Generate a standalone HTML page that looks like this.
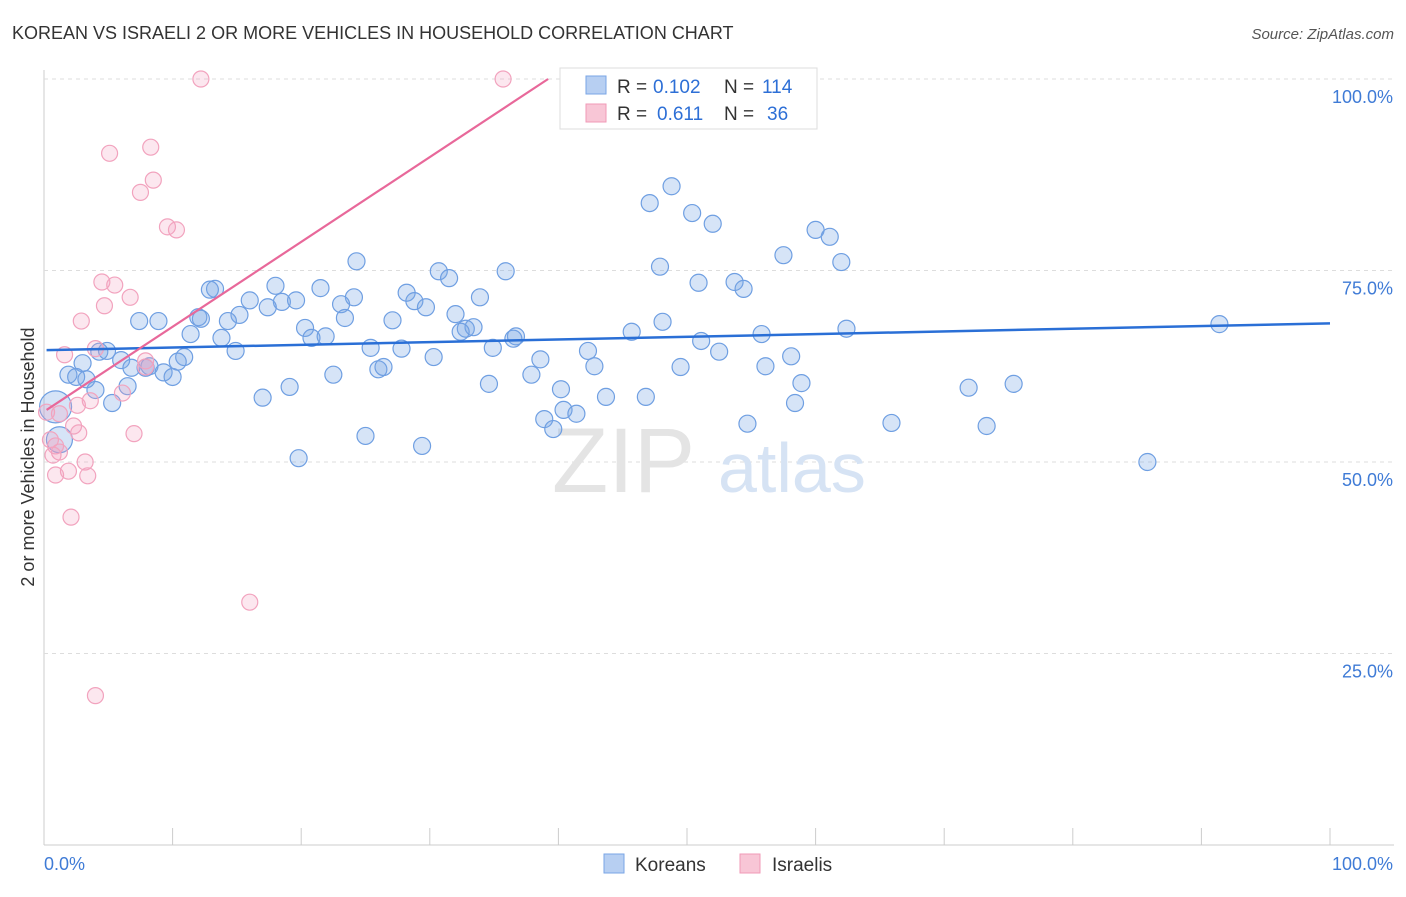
<!DOCTYPE html>
<html><head><meta charset="utf-8"><style>
body{margin:0;background:#fff;font-family:"Liberation Sans",sans-serif;}
svg text{font-family:"Liberation Sans",sans-serif;}
</style></head><body>
<svg id="chart" width="1406" height="892" viewBox="0 0 1406 892">
<text x="12" y="39" font-size="18" fill="#333">KOREAN VS ISRAELI 2 OR MORE VEHICLES IN HOUSEHOLD CORRELATION CHART</text>
<text x="1394" y="39" font-size="15" fill="#555" text-anchor="end" font-style="italic">Source: ZipAtlas.com</text>
<g id="grid"></g>
<g>
<text x="552" y="492" font-size="92" fill="#e4e4e4" font-family="Liberation Serif">ZIP</text>
<text x="718" y="492" font-size="70" fill="#d6e3f4">atlas</text>
</g>
<text transform="translate(34,457) rotate(-90)" font-size="18" fill="#333" text-anchor="middle">2 or more Vehicles in Household</text>
<g id="points"></g>
<g id="lines"></g>
<g>
<rect x="560" y="68" width="257" height="61" fill="#fff" stroke="#ddd"/>
<rect x="586" y="76" width="20" height="18" fill="#b7cff2" stroke="#7aa5e6"/>
<rect x="586" y="104" width="20" height="18" fill="#f8c6d6" stroke="#f09ab7"/>
<text x="617" y="93" font-size="19" fill="#333">R =</text>
<text x="653" y="93" font-size="19" fill="#2d6fd6">0.102</text>
<text x="724" y="93" font-size="19" fill="#333">N =</text>
<text x="762" y="93" font-size="19" fill="#2d6fd6">114</text>
<text x="617" y="120" font-size="19" fill="#333">R =</text>
<text x="657" y="120" font-size="19" fill="#2d6fd6">0.611</text>
<text x="724" y="120" font-size="19" fill="#333">N =</text>
<text x="767" y="120" font-size="19" fill="#2d6fd6">36</text>
</g>
<g>
<rect x="604" y="854" width="20" height="19" fill="#b7cff2" stroke="#7aa5e6"/>
<text x="635" y="871" font-size="19" fill="#333">Koreans</text>
<rect x="740" y="854" width="20" height="19" fill="#f8c6d6" stroke="#f09ab7"/>
<text x="772" y="871" font-size="19" fill="#333">Israelis</text>
</g>
</svg>
<script>
const yTicks=[25,50,75,100];
const yTickLabels=["25.0%","50.0%","75.0%","100.0%"];
const xTickLabels=["0.0%","100.0%"];
const koreanX=[48.8,47.1,50.4,52.0,60.0,61.1,57.5,62.0,47.9,50.9,53.7,54.4,24.3,30.7,31.5,35.9,33.9,18.0,13.3,12.9,16.0,18.5,19.6,21.5,24.1,23.1,28.2,28.8,29.7,17.4,15.2,12.0,12.2,14.3,7.4,8.9,32.0,23.4,20.3,20.8,21.9,27.1,32.8,33.4,32.4,36.7,36.5,45.7,48.1,51.1,55.8,62.4,91.4,11.4,13.8,14.9,4.3,4.9,6.0,10.9,10.4,8.2,7.9,6.8,9.3,10.0,3.0,1.9,2.5,3.3,4.0,6.5,5.3,25.4,27.8,30.3,34.9,38.6,42.3,52.5,58.1,26.0,26.4,42.8,49.5,56.1,22.5,37.9,34.6,19.1,40.2,58.9,71.9,75.4,17.0,43.7,46.8,58.4,38.9,40.4,41.4,39.6,54.7,65.9,73.3,25.0,29.4,19.8,85.8,0.9,1.2];
const koreanY=[86.0,83.8,82.5,81.1,80.3,79.4,77.0,76.1,75.5,73.4,73.5,72.6,76.2,74.9,74.0,74.9,71.5,73.0,72.6,72.5,71.1,70.9,71.1,72.7,71.5,70.6,72.1,71.0,70.2,70.2,69.2,68.9,68.7,68.4,68.4,68.4,69.3,68.8,67.5,66.2,66.4,68.5,67.4,67.6,67.0,66.4,66.1,67.0,68.3,65.8,66.7,67.4,68.0,66.7,66.2,64.5,64.4,64.5,63.3,63.7,63.1,62.5,62.3,62.3,61.7,61.1,62.9,61.4,61.1,60.8,59.4,59.9,57.7,64.9,64.8,63.7,64.9,63.4,64.5,64.4,63.8,62.1,62.4,62.5,62.4,62.5,61.4,61.4,60.2,59.8,59.5,60.3,59.7,60.2,58.4,58.5,58.5,57.7,55.6,56.8,56.3,54.3,55.0,55.1,54.7,53.4,52.1,50.5,50.0,57.2,52.9];
const israeliX=[12.2,35.7,5.1,8.3,8.5,7.5,9.6,10.3,4.5,5.5,6.7,4.7,2.9,4.0,1.6,7.9,6.1,3.6,2.6,1.2,2.3,2.7,7.0,0.9,1.2,3.2,1.9,0.9,3.4,2.1,16.0,4.0,0.2,0.5,0.7,7.9];
const israeliY=[100,100,90.3,91.1,86.8,85.2,80.7,80.3,73.5,73.1,71.5,70.4,68.4,64.8,64.0,63.2,59.0,58.0,57.4,56.3,54.7,53.8,53.7,52.1,51.3,50.0,48.8,48.3,48.2,42.8,31.7,19.5,56.5,52.9,50.9,62.4];
const koreanTrend=[64.6,68.1];
const israeliTrend=[56.8,100];
const israeliTrendEndX=39.2;

const NS="http://www.w3.org/2000/svg";
const X0=44,X1=1330,YB=845,YT=79;
function sx(v){return X0+(X1-X0)*v/100;}
function sy(v){return YB-(YB-YT)*v/100;}
function mk(tag,attrs,parent){const e=document.createElementNS(NS,tag);for(const k in attrs)e.setAttribute(k,attrs[k]);parent.appendChild(e);return e;}
const grid=document.getElementById('grid');
let ax=mk('line',{x1:X0,y1:70,x2:X0,y2:YB,stroke:'#ccc'},grid);


let bx=mk('line',{x1:X0,y1:YB,x2:1394,y2:YB,stroke:'#ccc'},grid);


yTicks.forEach((t,i)=>{
  let g=mk('line',{x1:X0,y1:sy(t),x2:1394,y2:sy(t),stroke:'#ddd','stroke-dasharray':'4,4'},grid);
  
  
  let tx=mk('text',{x:1393,y:sy(t)+24,'font-size':18,fill:'#3f7bd6','text-anchor':'end'},grid);
  tx.textContent=yTickLabels[i];
  
  
});
for(let i=0;i<=10;i++){
  let t=mk('line',{x1:sx(i*10),y1:828,x2:sx(i*10),y2:YB,stroke:'#ccc'},grid);
  
  
}
let xl0=mk('text',{x:X0,y:870,'font-size':18,fill:'#3f7bd6'},grid);xl0.textContent=xTickLabels[0];


let xl1=mk('text',{x:1393,y:870,'font-size':18,fill:'#3f7bd6','text-anchor':'end'},grid);xl1.textContent=xTickLabels[1];


const pts=document.getElementById('points');
koreanX.forEach((x,i)=>{
  const r=i>=koreanX.length-2?(i==koreanX.length-2?16:13):8.5;
  let c=mk('circle',{cx:sx(x),cy:sy(koreanY[i]),r:r,fill:'rgba(120,165,230,0.3)',stroke:'#6f9fe2','stroke-width':1.2},pts);
  
  
});
israeliX.forEach((x,i)=>{
  let c=mk('circle',{cx:sx(x),cy:sy(israeliY[i]),r:8,fill:'rgba(244,160,190,0.25)',stroke:'#f2a3be','stroke-width':1.2},pts);
  
  
});
const ln=document.getElementById('lines');
let kl=mk('line',{x1:sx(0.2),y1:sy(koreanTrend[0]),x2:sx(100),y2:sy(koreanTrend[1]),stroke:'#2a6fd6','stroke-width':2.5},ln);


let il=mk('line',{x1:sx(0.2),y1:sy(israeliTrend[0]),x2:sx(israeliTrendEndX),y2:sy(israeliTrend[1]),stroke:'#e8689a','stroke-width':2.2},ln);


</script>
</body></html>
